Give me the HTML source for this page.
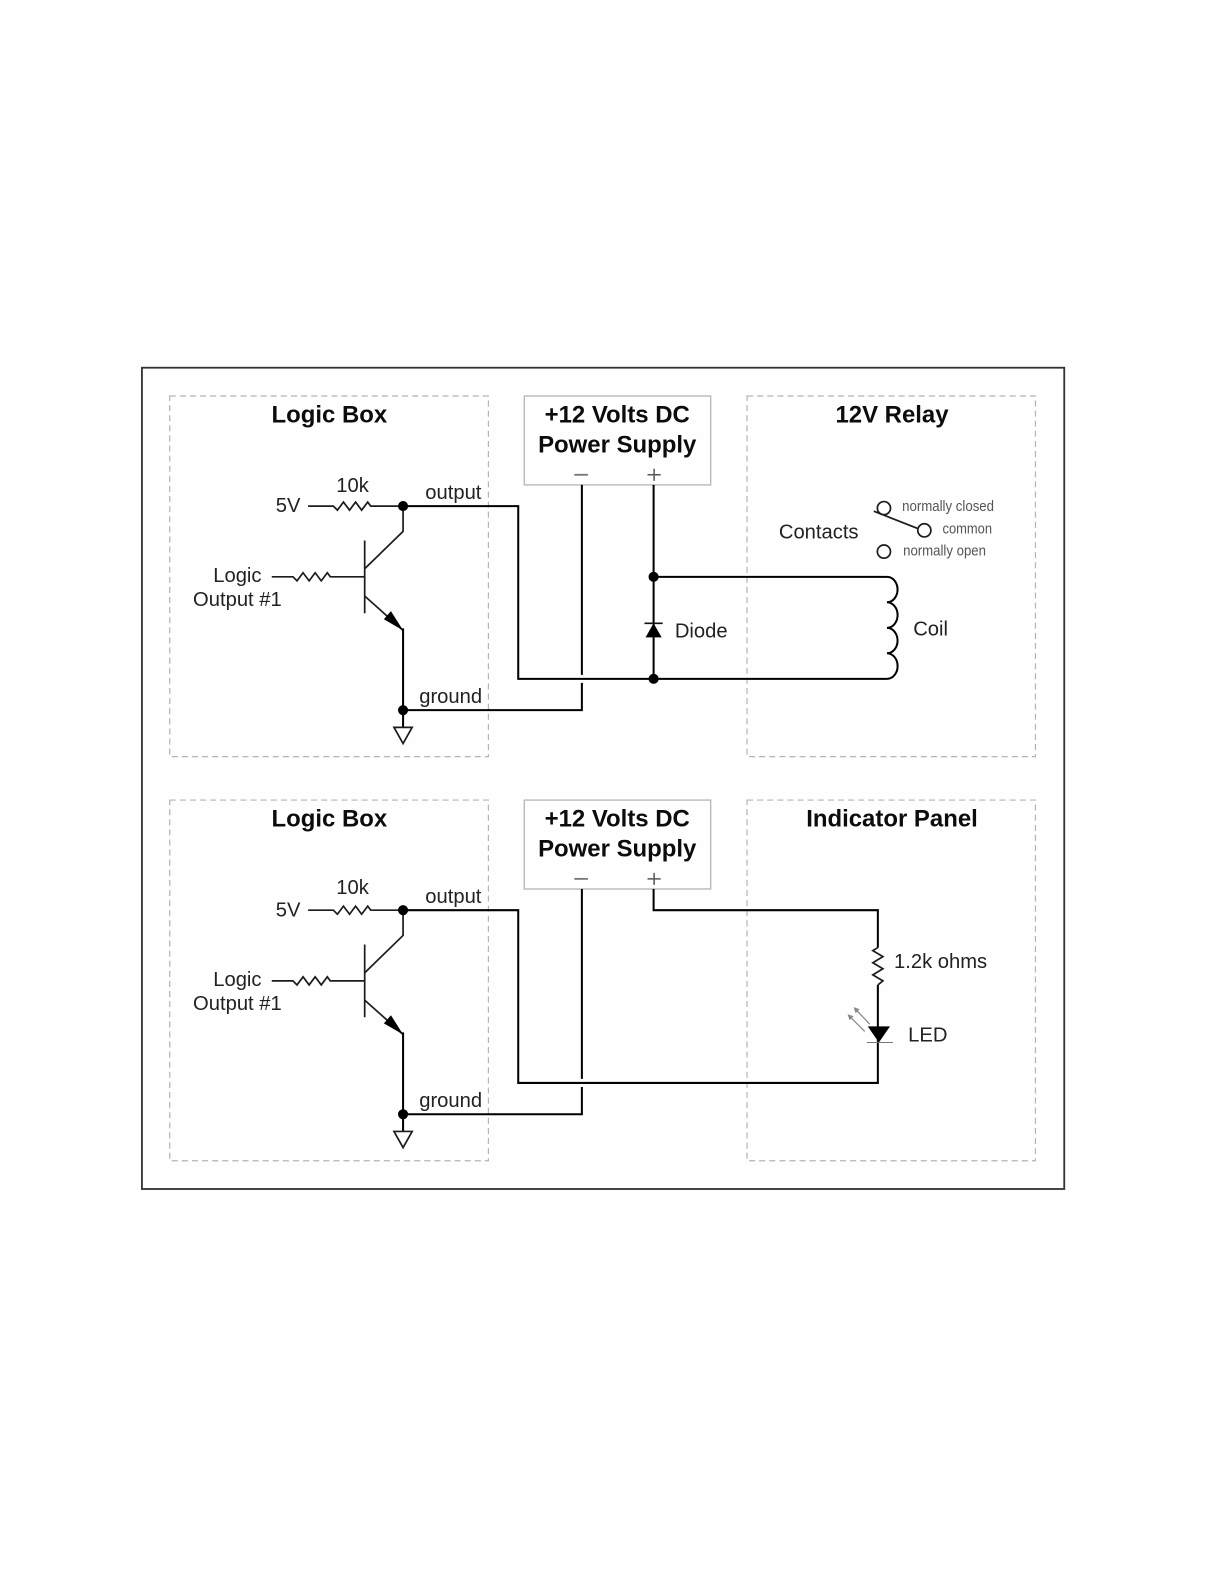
<!DOCTYPE html>
<html><head><meta charset="utf-8"><style>
html,body{margin:0;padding:0;background:#fff}
svg{display:block}
text{font-family:"Liberation Sans",sans-serif;font-size:20px;fill:#222}
.t{font-size:23.7px;font-weight:bold;fill:#0c0c0c;text-anchor:middle}
.s{font-size:15px;fill:#555}
.d{fill:none;stroke:#b5b5b5;stroke-width:1.2;stroke-dasharray:6 4}
.w{fill:none;stroke:#000;stroke-width:2;stroke-linejoin:miter}
.r{fill:none;stroke:#1c1c1c;stroke-width:1.7}
.all{filter:blur(0.3px)}
</style></head><body>
<svg width="1224" height="1584" viewBox="0 0 1224 1584" xmlns="http://www.w3.org/2000/svg">
<rect width="1224" height="1584" fill="#fefefe"/>
<g class="all" transform="scale(1.0102)">
<rect x="140.5" y="364" width="913" height="813" fill="none" stroke="#333" stroke-width="1.8"/>

<!-- top row boxes -->
<rect class="d" x="168" y="392" width="315.5" height="357"/>
<rect class="d" x="739.5" y="392" width="285.5" height="357"/>
<rect x="519" y="392" width="184.5" height="88" fill="none" stroke="#bbb" stroke-width="1.4"/>
<!-- bottom row boxes -->
<rect class="d" x="168" y="792" width="315.5" height="357"/>
<rect class="d" x="739.5" y="792" width="285.5" height="357"/>
<rect x="519" y="792" width="184.5" height="88" fill="none" stroke="#bbb" stroke-width="1.4"/>

<!-- titles -->
<text class="t" x="326" y="418">Logic Box</text>
<text class="t" x="611" y="418">+12 Volts DC</text>
<text class="t" x="611" y="448">Power Supply</text>
<text class="t" x="883" y="418">12V Relay</text>
<text class="t" x="326" y="818">Logic Box</text>
<text class="t" x="611" y="818">+12 Volts DC</text>
<text class="t" x="611" y="848">Power Supply</text>
<text class="t" x="883" y="818">Indicator Panel</text>

<!-- top logic -->
<text x="273" y="507">5V</text>
<text x="349" y="487" text-anchor="middle">10k</text>
<text x="421" y="494">output</text>
<text x="235" y="576" text-anchor="middle">Logic</text>
<text x="235" y="600" text-anchor="middle">Output #1</text>
<text x="415" y="696">ground</text>
<path class="r" d="M305 501H330L334 505L340 497L346 505L352 497L358 505L364 497L367 501H399"/>
<path class="r" d="M269 571H290L294 575L300 567L306 575L312 567L318 575L324 567L327 571H361"/>
<path class="r" d="M361 535V607"/>
<path class="r" d="M361 563L399 526V501"/>
<path class="r" d="M361 590L399 624"/>
<path d="M399 624L380 613L387 605Z" fill="#000"/>
<path class="w" d="M399 622V720"/>
<path class="r" d="M390 720H408L399 736Z" fill="#fff"/>
<circle cx="399" cy="501" r="5" fill="#000"/>
<circle cx="399" cy="703" r="5" fill="#000"/>
<path class="w" d="M399 501H513V672H878"/>
<path class="w" d="M576 480V668M399 703H576V676"/>
<path class="w" d="M647 480V672M647 571H878"/>
<path d="M568.5 470H582" stroke="#777" stroke-width="1.8"/>
<path d="M641 470H654M647.5 464V476" stroke="#555" stroke-width="1.5"/>
<circle cx="647" cy="571" r="5" fill="#000"/>
<circle cx="647" cy="672" r="5" fill="#000"/>
<path d="M639 631H655L647 617Z" fill="#000"/>
<path d="M638 617H656" stroke="#111" stroke-width="1.6"/>
<text x="668" y="631">Diode</text>
<path class="w" d="M878 571A10.5 12.6 0 0 1 878 596.2A10.5 12.6 0 0 1 878 621.5A10.5 12.6 0 0 1 878 646.7A10.5 12.6 0 0 1 878 672"/>
<text x="904" y="629">Coil</text>
<text x="771" y="533">Contacts</text>
<circle class="r" cx="875" cy="503" r="6.5"/>
<circle class="r" cx="915" cy="525" r="6.5"/>
<circle class="r" cx="875" cy="546" r="6.5"/>
<path class="r" d="M865 506L908 523"/>
<text class="s" x="893" y="506" textLength="91" lengthAdjust="spacingAndGlyphs">normally closed</text>
<text class="s" x="933" y="528" textLength="49" lengthAdjust="spacingAndGlyphs">common</text>
<text class="s" x="894" y="550" textLength="82" lengthAdjust="spacingAndGlyphs">normally open</text>

<!-- bottom logic -->
<text x="273" y="907">5V</text>
<text x="349" y="885" text-anchor="middle">10k</text>
<text x="421" y="894">output</text>
<text x="235" y="976" text-anchor="middle">Logic</text>
<text x="235" y="1000" text-anchor="middle">Output #1</text>
<text x="415" y="1096">ground</text>
<path class="r" d="M305 901H330L334 905L340 897L346 905L352 897L358 905L364 897L367 901H399"/>
<path class="r" d="M269 971H290L294 975L300 967L306 975L312 967L318 975L324 967L327 971H361"/>
<path class="r" d="M361 935V1007"/>
<path class="r" d="M361 963L399 926V901"/>
<path class="r" d="M361 990L399 1024"/>
<path d="M399 1024L380 1013L387 1005Z" fill="#000"/>
<path class="w" d="M399 1022V1120"/>
<path class="r" d="M390 1120H408L399 1136Z" fill="#fff"/>
<circle cx="399" cy="901" r="5" fill="#000"/>
<circle cx="399" cy="1103" r="5" fill="#000"/>
<path class="w" d="M399 901H513V1072H869V975"/>
<path class="w" d="M576 880V1068M399 1103H576V1076"/>
<path class="w" d="M647 880V901H869V938"/>
<path d="M568.5 870H582" stroke="#777" stroke-width="1.8"/>
<path d="M641 870H654M647.5 864V876" stroke="#555" stroke-width="1.5"/>
<path class="r" d="M869 938L864 941L874 947L864 953L874 959L864 965L874 971L869 975"/>
<text x="885" y="958">1.2k ohms</text>
<path d="M859 1016H881L870 1032Z" fill="#000"/>
<path d="M858 1032H884" stroke="#777" stroke-width="1"/>
<path d="M856 1021L840 1005M861 1014L846 998" stroke="#888" stroke-width="1.2"/>
<path d="M839 1004L845 1006L841 1010ZM845 997L851 999L847 1003Z" fill="#888"/>
<text x="899" y="1031">LED</text>
</g>
</svg>
</body></html>
